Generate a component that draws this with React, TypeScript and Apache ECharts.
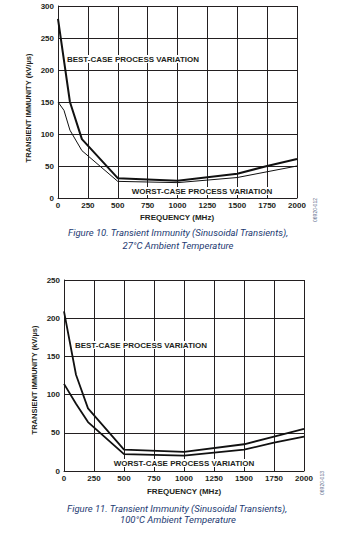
import React, { useEffect, useRef } from "react";
import * as echarts from "echarts";

const xTicks = [0, 250, 500, 750, 1000, 1250, 1500, 1750, 2000];

// Figure 10 (27°C)
const fig10Best: [number, number][] = [[0, 280], [100, 150], [200, 92], [500, 31], [1000, 27], [1500, 38], [1750, 50], [2000, 61]];
const fig10Worst: [number, number][] = [[0, 150], [50, 137], [100, 106], [200, 74], [500, 26], [1000, 24], [1500, 32], [1750, 41], [2000, 50]];

// Figure 11 (100°C)
const fig11Best: [number, number][] = [[0, 209], [100, 126], [200, 82], [500, 28], [1000, 25], [1500, 35], [1750, 45], [2000, 55]];
const fig11Worst: [number, number][] = [[0, 114], [100, 88], [200, 64], [500, 22], [1000, 20], [1500, 28], [1750, 37], [2000, 45]];

const yTitle = "TRANSIENT IMMUNITY (kV/µs)";
const xTitle = "FREQUENCY (MHz)";
const bestLabel = "BEST-CASE PROCESS VARIATION";
const worstLabel = "WORST-CASE PROCESS VARIATION";
const captions10 = ["Figure 10. Transient Immunity (Sinusoidal Transients),", "27°C Ambient Temperature"];
const captions11 = ["Figure 11. Transient Immunity (Sinusoidal Transients),", "100°C Ambient Temperature"];
const codes = ["06920-012", "06920-013"];

const FONT = "'Liberation Sans', Arial, sans-serif";
const INK = "#231f20";
const CAP = "#1d3a72";

export default function App() {
  const ref = useRef<HTMLDivElement>(null);
  useEffect(() => {
    document.body.style.margin = "0";
    if (!ref.current) return;
    const chart = echarts.init(ref.current, null, { renderer: "svg" });

    const xAxisBase = (gridIndex: number) => ({
      type: "value" as const,
      gridIndex,
      min: xTicks[0],
      max: xTicks[xTicks.length - 1],
      interval: xTicks[1] - xTicks[0],
      axisLine: { show: true, lineStyle: { color: INK, width: 1 } },
      axisTick: { show: false },
      splitLine: { show: true, lineStyle: { color: INK, width: 1 } },
      axisLabel: {
        color: INK, fontFamily: FONT, fontWeight: "bold" as const, fontSize: 8, margin: 3,
        formatter: (v: number) => String(v),
      },
    });
    const yAxisBase = (gridIndex: number, max: number) => ({
      type: "value" as const,
      gridIndex,
      min: 0,
      max,
      interval: 50,
      axisLine: { show: true, lineStyle: { color: INK, width: 1 } },
      axisTick: { show: false },
      splitLine: { show: true, lineStyle: { color: INK, width: 1 } },
      axisLabel: { color: INK, fontFamily: FONT, fontWeight: "bold" as const, fontSize: 8, margin: 4 },
    });

    const lineSeries = (data: [number, number][], idx: number, width: number) => ({
      type: "line" as const,
      xAxisIndex: idx,
      yAxisIndex: idx,
      data,
      symbol: "none",
      smooth: false,
      lineStyle: { color: "#111", width },
      z: 5,
    });

    const boldText = (text: string, x: number, y: number, bg = false, rotation = 0, size = 8) => ({
      type: "text" as const,
      x,
      y,
      rotation,
      z: 10,
      style: {
        text,
        fill: INK,
        font: `bold ${size}px ${FONT}`,
        align: "center",
        verticalAlign: "middle",
        ...(bg ? { backgroundColor: "#fff", padding: [0, 1] } : {}),
      },
    });
    const capText = (text: string, x: number, y: number) => ({
      type: "text" as const,
      x,
      y,
      z: 10,
      style: {
        text,
        fill: CAP,
        font: `italic 9.5px Roboto, sans-serif`,
        align: "center",
        verticalAlign: "middle",
      },
    });
    const codeText = (text: string, x: number, y: number) => ({
      type: "text" as const,
      x,
      y,
      rotation: Math.PI / 2,
      z: 10,
      style: {
        text,
        fill: "#5a6a8a",
        font: `5px ${FONT}`,
        align: "center",
        verticalAlign: "middle",
      },
    });

    chart.setOption({
      animation: false,
      backgroundColor: "#fff",
      grid: [
        { left: 58, top: 6, width: 239, height: 192 },
        { left: 64, top: 280, width: 240, height: 191 },
      ],
      xAxis: [xAxisBase(0), xAxisBase(1)],
      yAxis: [yAxisBase(0, 300), yAxisBase(1, 250)],
      series: [
        lineSeries(fig10Best, 0, 2),
        lineSeries(fig10Worst, 0, 1),
        lineSeries(fig11Best, 1, 1.8),
        lineSeries(fig11Worst, 1, 1.8),
      ],
      graphic: [
        boldText(yTitle, 28, 108, false, Math.PI / 2, 7.5),
        boldText(xTitle, 177, 217),
        boldText(bestLabel, 133, 59, true),
        boldText(worstLabel, 202, 191, true),
        capText(captions10[0], 178, 232),
        capText(captions10[1], 178, 245),
        codeText(codes[0], 315, 210),
        boldText(yTitle, 34, 380, false, Math.PI / 2, 7.5),
        boldText(xTitle, 184, 491),
        boldText(bestLabel, 141, 345, true),
        boldText(worstLabel, 184, 463, true),
        capText(captions11[0], 177, 508),
        capText(captions11[1], 178, 519),
        codeText(codes[1], 322, 483),
      ],
    });
    return () => chart.dispose();
  }, []);
  return <div ref={ref} style={{ width: 358, height: 534 }} />;
}
